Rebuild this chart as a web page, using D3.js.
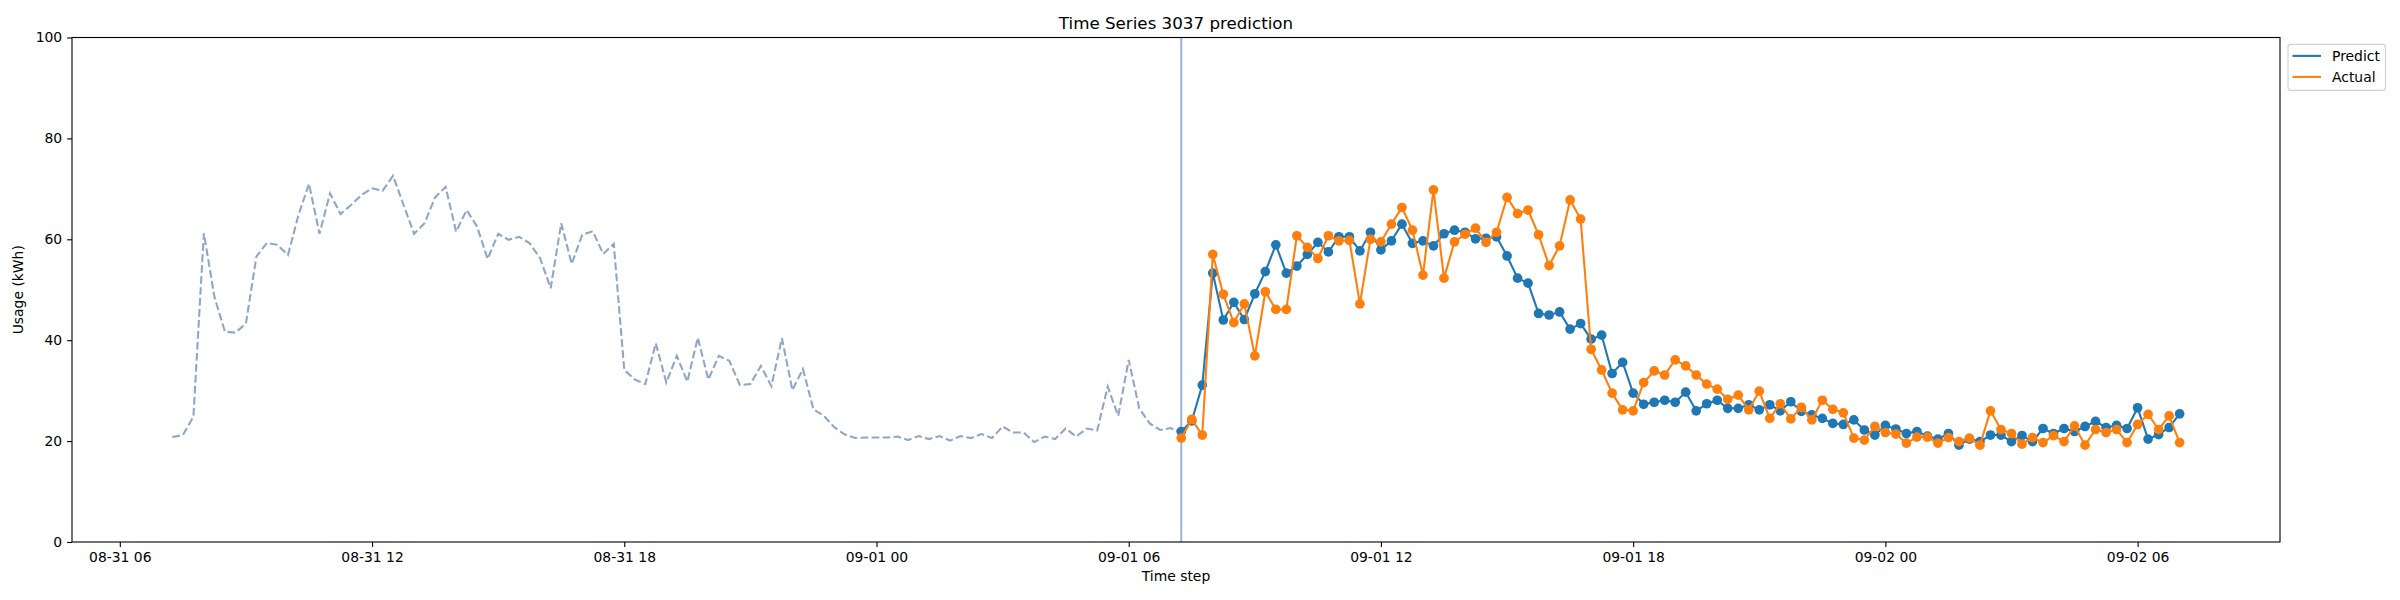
<!DOCTYPE html>
<html>
<head>
<meta charset="utf-8">
<script src="https://cdn.jsdelivr.net/npm/d3@7"></script>
<style>
  body { margin: 0; background: #fff; }
  text { font-family: "DejaVu Sans", sans-serif; fill: #000; }
</style>
</head>
<body>
<div class="chart"></div>
<script>
// data (15 minute steps)
const historyStart = "2023-08-31 07:15";
const forecastStart = "2023-09-01 07:15";
const stepMinutes = 15;

const historyValues = [
  20.8, 21.2, 24.8, 61.2, 48.6, 41.7, 41.5, 43.3, 56.6, 59.3,
  58.9, 56.9, 64.8, 71.0, 61.1, 69.1, 65.0, 66.8, 68.8, 70.1,
  69.6, 72.6, 66.8, 61.1, 63.2, 68.3, 70.4, 61.5, 65.8, 62.5,
  56.1, 61.1, 59.9, 60.5, 59.2, 56.2, 50.3, 63.2, 55.1, 60.9,
  61.6, 57.1, 59.1, 34.1, 32.2, 31.3, 39.4, 31.6, 36.9, 31.8,
  40.5, 32.2, 36.9, 35.9, 31.1, 31.3, 34.9, 30.9, 40.4, 30.1,
  34.3, 26.3, 25.0, 22.7, 21.3, 20.6, 20.7, 20.7, 20.7, 20.9,
  20.2, 21.0, 20.4, 21.0, 20.1, 21.0, 20.6, 21.4, 20.6, 22.9,
  21.7, 21.7, 19.8, 20.9, 20.4, 22.5, 20.9, 22.5, 22.1, 30.8,
  25.0, 36.1, 26.5, 23.5, 22.2, 22.6, 21.6
];

const predictValues = [
  21.9, 24.0, 31.1, 53.3, 44.0, 47.5, 44.1, 49.2, 53.6, 58.9, 53.3, 54.7,
  57.0, 59.4, 57.5, 60.5, 60.5, 57.7, 61.4, 57.9, 59.7, 63.0, 59.2, 59.7,
  58.7, 61.1, 61.8, 61.4, 60.1, 60.2, 60.5, 56.7, 52.3, 51.3, 45.3, 45.0,
  45.6, 42.2, 43.3, 40.2, 41.0, 33.4, 35.6, 29.5, 27.3, 27.7, 28.1, 27.7,
  29.7, 26.0, 27.4, 28.1, 26.5, 26.5, 27.2, 26.2, 27.2, 26.0, 27.8, 25.9,
  25.2, 24.5, 23.5, 23.3, 24.2, 22.2, 21.2, 23.1, 22.4, 21.5, 21.9, 21.0,
  20.4, 21.5, 19.2, 20.4, 19.9, 21.2, 21.2, 19.9, 21.1, 19.9, 22.5, 21.5,
  22.5, 21.9, 22.9, 23.9, 22.7, 23.1, 22.5, 26.6, 20.4, 21.3, 22.7, 25.4
];

const actualValues = [
  20.6, 24.3, 21.2, 57.0, 49.1, 43.5, 47.2, 36.9, 49.6, 46.1, 46.1, 60.7,
  58.4, 56.2, 60.7, 59.7, 59.8, 47.2, 60.0, 59.5, 63.0, 66.3, 61.8, 52.9,
  69.8, 52.3, 59.5, 61.0, 62.2, 59.4, 61.4, 68.3, 65.1, 65.8, 60.9, 54.8,
  58.7, 67.8, 64.0, 38.2, 34.1, 29.5, 26.2, 26.0, 31.6, 33.9, 33.1, 36.1,
  34.9, 33.1, 31.3, 30.3, 28.3, 29.1, 26.2, 29.9, 24.5, 27.4, 24.4, 26.7,
  24.2, 28.1, 26.3, 25.6, 20.6, 20.2, 22.9, 21.7, 21.4, 19.6, 20.8, 20.8,
  19.6, 20.7, 19.9, 20.6, 19.2, 26.0, 22.3, 21.5, 19.4, 20.7, 19.7, 21.1,
  19.9, 23.0, 19.2, 22.3, 21.7, 22.3, 19.7, 23.3, 25.3, 22.3, 25.0, 19.7
];

const yTicks = [0, 20, 40, 60, 80, 100];
const seriesNames = ["Predict", "Actual"];
const seriesColors = ["#1f77b4", "#ff7f0e"];

const width = 2400;
const height = 600;
const box = { left: 72, right: 2280, top: 37.5, bottom: 542 };

const parse = d3.utcParse("%Y-%m-%d %H:%M");
const t0 = parse(historyStart);
const t1 = parse(forecastStart);
const histPts = historyValues.map((v, i) => ({ t: d3.utcMinute.offset(t0, stepMinutes * i), v }));
const predPts = predictValues.map((v, i) => ({ t: d3.utcMinute.offset(t1, stepMinutes * i), v }));
const actPts = actualValues.map((v, i) => ({ t: d3.utcMinute.offset(t1, stepMinutes * i), v }));

const svg = d3.select('.chart').append('svg')
    .attr('width', width)
    .attr('height', height)
    .attr('viewBox', [0, 0, width, height]);

// matplotlib style 5% margins on x
const tMin = histPts[0].t, tMax = actPts[actPts.length - 1].t;
const pad = (tMax - tMin) * 0.05;
const x = d3.scaleUtc()
    .domain([new Date(+tMin - pad), new Date(+tMax + pad)])
    .range([box.left, box.right]);

const y = d3.scaleLinear()
    .domain([0, 100])
    .range([box.bottom, box.top]);

const tickLen = 4.9;

// axes
const xAxis = svg.append('g')
    .attr('transform', `translate(0,${box.bottom})`)
    .call(d3.axisBottom(x)
        .ticks(d3.utcHour.every(6))
        .tickFormat(d3.utcFormat("%m-%d %H"))
        .tickSize(tickLen).tickSizeOuter(0).tickPadding(4.9));

const yAxis = svg.append('g')
    .attr('transform', `translate(${box.left},0)`)
    .call(d3.axisLeft(y)
        .tickValues(yTicks)
        .tickSize(tickLen).tickSizeOuter(0).tickPadding(4.9));

[xAxis, yAxis].forEach(a => {
    a.select('.domain').remove();
    a.selectAll('.tick line').attr('stroke', '#000').attr('stroke-width', 1.1);
    a.selectAll('.tick text')
        .style('font-family', '"DejaVu Sans", sans-serif')
        .style('font-size', '13.9px')
        .attr('fill', '#000');
});

// forecast start marker
svg.append('line')
    .attr('x1', x(t1)).attr('x2', x(t1))
    .attr('y1', box.top).attr('y2', box.bottom)
    .style('stroke', '#a2b1d6')
    .style('stroke-width', 2);

const line = d3.line()
    .x(d => x(d.t))
    .y(d => y(d.v));

svg.append('path')
    .datum(histPts)
    .attr('d', line)
    .style('fill', 'none')
    .style('stroke', '#8fa7c6')
    .style('stroke-width', 2.08)
    .style('stroke-dasharray', '7.7,3.3');

[predPts, actPts].forEach((pts, k) => {
    const g = svg.append('g');
    g.append('path')
        .datum(pts)
        .attr('d', line)
        .style('fill', 'none')
        .style('stroke', seriesColors[k])
        .style('stroke-width', 2.08)
        .style('stroke-linejoin', 'round');
    g.selectAll('circle')
        .data(pts)
        .enter()
        .append('circle')
        .attr('cx', d => x(d.t))
        .attr('cy', d => y(d.v))
        .attr('r', 4.85)
        .style('fill', seriesColors[k]);
});

// frame
svg.append('rect')
    .attr('x', box.left).attr('y', box.top)
    .attr('width', box.right - box.left)
    .attr('height', box.bottom - box.top)
    .style('fill', 'none')
    .style('stroke', '#000')
    .style('stroke-width', 1.1);

// titles
svg.append('text')
    .attr('x', (box.left + box.right) / 2)
    .attr('y', 29)
    .attr('text-anchor', 'middle')
    .style('font-size', '16.7px')
    .text('Time Series 3037 prediction');

svg.append('text')
    .attr('x', (box.left + box.right) / 2)
    .attr('y', 581)
    .attr('text-anchor', 'middle')
    .style('font-size', '13.9px')
    .text('Time step');

svg.append('text')
    .attr('transform', `translate(23,${(box.top + box.bottom) / 2}) rotate(-90)`)
    .attr('text-anchor', 'middle')
    .style('font-size', '13.9px')
    .text('Usage (kWh)');

// legend
const legend = svg.append('g').attr('transform', 'translate(2288,44.4)');
legend.append('rect')
    .attr('width', 97.5).attr('height', 46)
    .attr('rx', 3)
    .style('fill', '#fff')
    .style('stroke', '#d0d0d0')
    .style('stroke-width', 1.1);

seriesNames.forEach((name, i) => {
    const ly = 11.5 + i * 21;
    legend.append('line')
        .attr('x1', 4.5).attr('x2', 33)
        .attr('y1', ly).attr('y2', ly)
        .style('stroke', seriesColors[i])
        .style('stroke-width', 2.08);
    legend.append('text')
        .attr('x', 44)
        .attr('y', ly)
        .attr('dy', '0.36em')
        .style('font-size', '13.9px')
        .text(name);
});
</script>
</body>
</html>
